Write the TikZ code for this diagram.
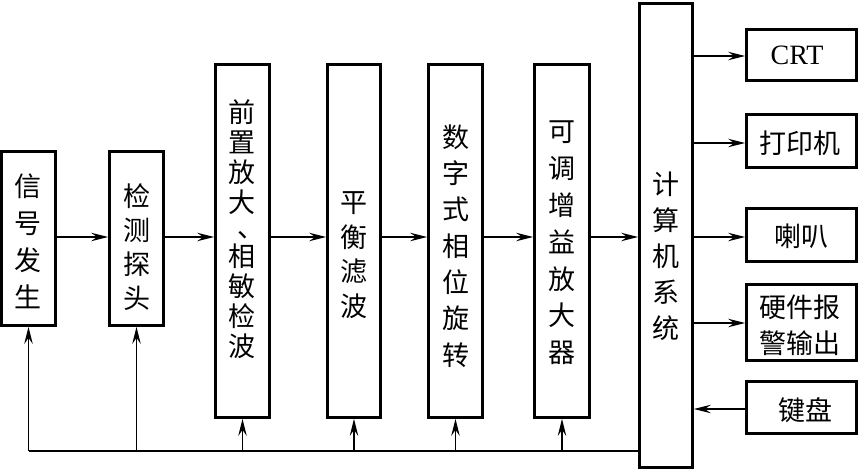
\documentclass[tikz,border=0pt]{standalone}
\usepackage{fontspec}
\setmainfont{Liberation Serif}
\newfontfamily\cjk{Noto Sans CJK SC}
\usetikzlibrary{arrows.meta}
\tikzset{
  box/.style={draw, line width=2.8pt, inner sep=0pt},
  conn/.style={line width=1.2pt},
  arr/.style={conn, -{Stealth[length=17pt,width=8.5pt,inset=6pt]}},
  vt/.style={font=\cjk\fontsize{27pt}{#1pt}\selectfont, align=center, inner sep=0pt},
  ht/.style={font=\cjk\fontsize{27pt}{36pt}\selectfont, align=center, inner sep=0pt},
}
\begin{document}
\begin{tikzpicture}[x=1pt,y=-1pt]
\useasboundingbox (0,0) rectangle (859,470);
% boxes
\node[box, minimum width=54pt, minimum height=174pt] (sig) at (28.5,238.5) {};
\node[box, minimum width=54pt, minimum height=174pt] (probe) at (136.5,238.5) {};
\node[box, minimum width=54pt, minimum height=353pt] (pre) at (242.5,241) {};
\node[box, minimum width=53pt, minimum height=353pt] (bal) at (354,241) {};
\node[box, minimum width=54pt, minimum height=353pt] (dig) at (455.5,241) {};
\node[box, minimum width=55pt, minimum height=353pt] (gain) at (562,241) {};
\node[box, minimum width=53pt, minimum height=464pt] (comp) at (666,235.5) {};
\node[box, minimum width=110pt, minimum height=51pt] (crt) at (801.5,55) {};
\node[box, minimum width=110pt, minimum height=53pt] (prn) at (801.5,141) {};
\node[box, minimum width=110pt, minimum height=53pt] (spk) at (801.5,235) {};
\node[box, minimum width=110pt, minimum height=76pt] (alarm) at (801.5,322.5) {};
\node[box, minimum width=110pt, minimum height=52pt] (kbd) at (801.5,407.5) {};
% texts
\node[vt=37] (tsig) at (28,241.5) {信\\号\\发\\生};
\node[vt=34] (tprobe) at (137,247) {检\\测\\探\\头};
\node[vt=30] (tpre) at (242,229) {前\\置\\放\\大\\[-3pt]\hspace*{18pt}\raisebox{2pt}{、}\\[-3pt]相\\敏\\检\\波};
\node[vt=34.5] (tbal) at (354,255) {平\\衡\\滤\\波};
\node[vt=36.3] (tdig) at (455.5,246) {数\\字\\式\\相\\位\\旋\\转};
\node[vt=36.8] (tgain) at (562,243) {可\\调\\增\\益\\放\\大\\器};
\node[vt=36] (tcomp) at (666,256) {计\\算\\机\\系\\统};
\node[font=\fontsize{28pt}{30pt}\selectfont, inner sep=0pt] (tcrt) at (797,55) {CRT};
\node[ht] (tprn) at (800,143) {打印机};
\node[ht] (tspk) at (801,236) {喇叭};
\node[ht] (talarm) at (800,325) {硬件报\\警输出};
\node[ht] (tkbd) at (805,410) {键盘};
% chain
\coordinate (lv) at (0,237);
\draw[arr] (sig.east |- lv) -- (probe.west |- lv);
\draw[arr] (probe.east |- lv) -- (pre.west |- lv);
\draw[arr] (pre.east |- lv) -- (bal.west |- lv);
\draw[arr] (bal.east |- lv) -- (dig.west |- lv);
\draw[arr] (dig.east |- lv) -- (gain.west |- lv);
\draw[arr] (gain.east |- lv) -- (comp.west |- lv);
% outputs
\coordinate (o1) at (0,56);
\coordinate (o2) at (0,143);
\coordinate (o3) at (0,237);
\coordinate (o4) at (0,323);
\coordinate (o5) at (0,409);
\draw[arr] (comp.east |- o1) -- (crt.west |- o1);
\draw[arr] (comp.east |- o2) -- (prn.west |- o2);
\draw[arr] (comp.east |- o3) -- (spk.west |- o3);
\draw[arr] (comp.east |- o4) -- (alarm.west |- o4);
\draw[arr] (kbd.west |- o5) -- (comp.east |- o5);
% bus
\coordinate (bus) at (27,451);
\draw[conn] (comp.west |- bus) -- (sig.south |- bus);
\draw[arr] (sig.south |- bus) -- (sig.south);
\draw[arr] (probe.south |- bus) -- (probe.south);
\draw[arr] (pre.south |- bus) -- (pre.south);
\draw[arr] (bal.south |- bus) -- (bal.south);
\draw[arr] (dig.south |- bus) -- (dig.south);
\draw[arr] (gain.south |- bus) -- (gain.south);
\end{tikzpicture}
\end{document}
